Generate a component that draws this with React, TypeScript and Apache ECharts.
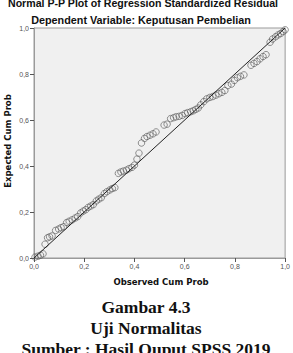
import React, { useEffect, useRef } from "react";
import * as echarts from "echarts";

const observed = [
  0.004, 0.016, 0.026, 0.036, 0.044, 0.054, 0.062, 0.072, 0.086, 0.098,
  0.108, 0.118, 0.13, 0.14, 0.152, 0.164, 0.174, 0.186, 0.196, 0.206,
  0.216, 0.226, 0.236, 0.248, 0.258, 0.268, 0.28, 0.29, 0.302, 0.312,
  0.322, 0.336, 0.346, 0.356, 0.368, 0.378, 0.39, 0.4, 0.41, 0.418,
  0.428, 0.44, 0.45, 0.462, 0.474, 0.486, 0.518, 0.53, 0.544, 0.556,
  0.566, 0.578, 0.59, 0.602, 0.612, 0.624, 0.634, 0.644, 0.654, 0.664,
  0.676, 0.688, 0.7, 0.712, 0.724, 0.736, 0.748, 0.76, 0.772, 0.786,
  0.798, 0.81, 0.822, 0.836, 0.864, 0.876, 0.888, 0.9, 0.912, 0.924,
  0.94, 0.95, 0.962, 0.972, 0.982, 0.992, 1.0,
];
const expected = [
  0.004, 0.008, 0.012, 0.018, 0.06, 0.088, 0.092, 0.096, 0.12, 0.126,
  0.132, 0.136, 0.154, 0.16, 0.166, 0.174, 0.18, 0.196, 0.204, 0.21,
  0.22, 0.226, 0.232, 0.248, 0.256, 0.262, 0.28, 0.288, 0.296, 0.302,
  0.306, 0.368, 0.374, 0.378, 0.382, 0.388, 0.394, 0.404, 0.43, 0.456,
  0.5, 0.52, 0.528, 0.534, 0.54, 0.548, 0.578, 0.582, 0.606, 0.61,
  0.614, 0.616, 0.62, 0.628, 0.632, 0.636, 0.64, 0.646, 0.652, 0.666,
  0.68, 0.692, 0.698, 0.702, 0.708, 0.714, 0.72, 0.728, 0.75, 0.756,
  0.772, 0.784, 0.79, 0.796, 0.838, 0.846, 0.854, 0.866, 0.876, 0.884,
  0.938, 0.952, 0.962, 0.97, 0.976, 0.984, 0.992,
];
const refLine = [
  [0, 0],
  [1, 1],
];

const title = "Normal P-P Plot of Regression Standardized Residual";
const subtitle = "Dependent Variable: Keputusan Pembelian";
const xName = "Observed Cum Prob";
const yName = "Expected Cum Prob";
const captions = ["Gambar 4.3", "Uji Normalitas", "Sumber : Hasil Ouput SPSS 2019"];

export default function App() {
  const ref = useRef<HTMLDivElement>(null);
  useEffect(() => {
    if (!ref.current) return;
    const chart = echarts.init(ref.current, undefined, { renderer: "svg" });
    const fmt = (v: number) => v.toFixed(1).replace(".", ",");
    const sans = "Liberation Sans, Arial, sans-serif";
    const wide = "DejaVu Sans, Verdana, sans-serif";
    const serif = "Liberation Serif, Times New Roman, serif";
    chart.setOption({
      animation: false,
      backgroundColor: "#ffffff",
      grid: {
        left: 34,
        top: 28,
        width: 254,
        height: 230,
        show: true,
        backgroundColor: "#f0f0f0",
        borderColor: "#9a9a9a",
        borderWidth: 1,
      },
      xAxis: {
        type: "value",
        min: 0,
        max: 1,
        interval: 0.2,
        splitLine: { show: false },
        axisLine: { show: true, lineStyle: { color: "#9a9a9a" } },
        axisTick: { show: true, length: 4, lineStyle: { color: "#555" } },
        axisLabel: { formatter: fmt, fontSize: 7, color: "#555", fontFamily: sans, margin: 5 },
      },
      yAxis: {
        type: "value",
        min: 0,
        max: 1,
        interval: 0.2,
        splitLine: { show: false },
        axisLine: { show: true, lineStyle: { color: "#9a9a9a" } },
        axisTick: { show: true, length: 4, lineStyle: { color: "#555" } },
        axisLabel: { formatter: fmt, fontSize: 7, color: "#555", fontFamily: sans, margin: 5 },
      },
      series: [
        {
          type: "line",
          data: refLine,
          symbol: "none",
          lineStyle: { color: "#222", width: 1 },
          z: 3,
        },
        {
          type: "scatter",
          data: observed.map((o, i) => [o, expected[i]]),
          symbol: "circle",
          symbolSize: 6.5,
          itemStyle: { color: "rgba(0,0,0,0)", borderColor: "#555", borderWidth: 0.8 },
          z: 2,
        },
      ],
      graphic: [
        {
          type: "text",
          x: 143,
          y: 3,
          style: {
            text: title,
            font: `bold 10.6px ${sans}`,
            fill: "#111",
            textAlign: "center",
            textVerticalAlign: "middle",
          },
        },
        {
          type: "text",
          x: 141,
          y: 20,
          style: {
            text: subtitle,
            font: `bold 10.8px ${sans}`,
            fill: "#111",
            textAlign: "center",
            textVerticalAlign: "middle",
          },
        },
        {
          type: "text",
          x: 161,
          y: 282,
          style: {
            text: xName,
            font: `bold 8.5px ${wide}`,
            fill: "#111",
            textAlign: "center",
            textVerticalAlign: "middle",
          },
        },
        {
          type: "text",
          x: 8,
          y: 141,
          rotation: Math.PI / 2,
          style: {
            text: yName,
            font: `bold 8.5px ${wide}`,
            fill: "#111",
            textAlign: "center",
            textVerticalAlign: "middle",
          },
        },
        ...captions.map((c, i) => ({
          type: "text",
          x: 146,
          y: 307 + i * 21,
          style: {
            text: c,
            font: `bold 17.5px ${serif}`,
            fill: "#111",
            textAlign: "center",
            textVerticalAlign: "middle",
          },
        })),
      ],
    });
    return () => chart.dispose();
  }, []);
  return (
    <div
      ref={ref}
      style={{ position: "absolute", left: 0, top: 0, width: 293, height: 353 }}
    />
  );
}
